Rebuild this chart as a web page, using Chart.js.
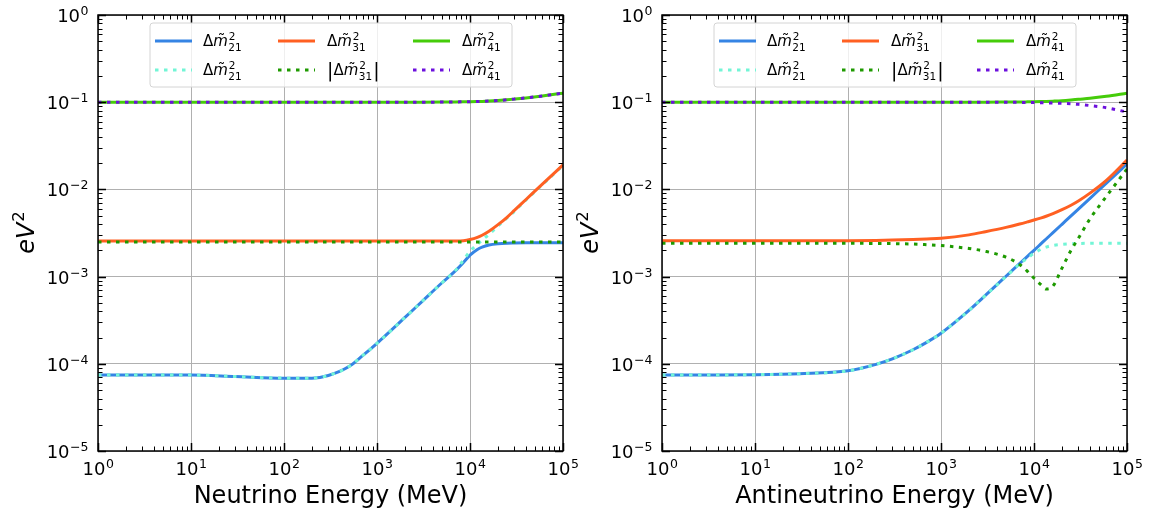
<!DOCTYPE html>
<html>
<head>
<meta charset="utf-8">
<script src="https://cdn.jsdelivr.net/npm/chart.js@4"></script>
<style>
  body { margin: 0; background: #fff; }
  canvas { position: absolute; top: 0; }
</style>
</head>
<body>
<canvas id="nuChart" width="600" height="516" style="left:0"></canvas>
<canvas id="antiChart" width="575" height="516" style="left:576px"></canvas>
<script>
const energy = [1, 3, 10, 30, 100, 200, 300, 500, 700, 1000, 2000, 3000, 5000, 7000, 8500,
  10000, 12000, 13500, 16000, 20000, 25000, 30000, 40000, 60000, 100000];

// neutrino panel (eV^2)
const nuDm21 = [7.45e-5, 7.45e-5, 7.43e-5, 7.15e-5, 6.85e-5, 6.85e-5, 7.35e-5, 9.3e-5, 1.24e-4, 1.72e-4,
  3.4e-4, 5.1e-4, 8.5e-4, 1.17e-3, 1.45e-3, 1.76e-3, 2.05e-3, 2.18e-3, 2.3e-3, 2.38e-3,
  2.42e-3, 2.43e-3, 2.44e-3, 2.45e-3, 2.45e-3];
const nuDm21b = [7.45e-5, 7.45e-5, 7.43e-5, 7.15e-5, 6.85e-5, 6.85e-5, 7.35e-5, 9.3e-5, 1.24e-4, 1.72e-4,
  3.4e-4, 5.1e-4, 8.5e-4, 1.18e-3, 1.55e-3, 1.95e-3, 2.35e-3, 2.62e-3, 3.05e-3, 3.8e-3,
  4.7e-3, 5.6e-3, 7.55e-3, 1.13e-2, 1.88e-2];
const nuDm31 = [2.56e-3, 2.56e-3, 2.56e-3, 2.56e-3, 2.56e-3, 2.56e-3, 2.56e-3, 2.56e-3, 2.56e-3, 2.56e-3,
  2.56e-3, 2.56e-3, 2.56e-3, 2.56e-3, 2.58e-3, 2.66e-3, 2.82e-3, 2.98e-3, 3.31e-3, 3.94e-3,
  4.79e-3, 5.74e-3, 7.66e-3, 1.15e-2, 1.91e-2];
const nuAbsDm31 = [2.5e-3, 2.5e-3, 2.5e-3, 2.5e-3, 2.5e-3, 2.5e-3, 2.5e-3, 2.5e-3, 2.5e-3, 2.5e-3,
  2.5e-3, 2.5e-3, 2.5e-3, 2.5e-3, 2.5e-3, 2.5e-3, 2.5e-3, 2.5e-3, 2.5e-3, 2.5e-3,
  2.5e-3, 2.5e-3, 2.5e-3, 2.5e-3, 2.5e-3];
const nuDm41 = [0.1, 0.1, 0.1, 0.1, 0.1, 0.1, 0.1, 0.1, 0.1, 0.1,
  0.1, 0.1, 0.1003, 0.1007, 0.101, 0.1013, 0.1018, 0.1022, 0.103, 0.1045,
  0.1065, 0.1085, 0.112, 0.118, 0.127];
const nuDm41b = [0.1, 0.1, 0.1, 0.1, 0.1, 0.1, 0.1, 0.1, 0.1, 0.1,
  0.1, 0.1, 0.1003, 0.1007, 0.101, 0.1013, 0.1018, 0.1022, 0.103, 0.1045,
  0.1065, 0.1085, 0.112, 0.118, 0.127];

// antineutrino panel (eV^2)
const antiDm21 = [7.44e-5, 7.45e-5, 7.5e-5, 7.7e-5, 8.3e-5, 9.86e-5, 1.14e-4, 1.45e-4, 1.76e-4, 2.24e-4,
  4.1e-4, 6.08e-4, 1.01e-3, 1.41e-3, 1.71e-3, 2.0e-3, 2.4e-3, 2.7e-3, 3.19e-3, 3.98e-3,
  4.97e-3, 5.94e-3, 7.9e-3, 1.18e-2, 1.96e-2];
const antiDm21b = [7.44e-5, 7.45e-5, 7.5e-5, 7.7e-5, 8.3e-5, 9.86e-5, 1.14e-4, 1.45e-4, 1.76e-4, 2.24e-4,
  4.1e-4, 6.08e-4, 1.0e-3, 1.4e-3, 1.63e-3, 1.85e-3, 2.07e-3, 2.18e-3, 2.28e-3, 2.34e-3,
  2.38e-3, 2.4e-3, 2.41e-3, 2.41e-3, 2.41e-3];
const antiDm31 = [2.57e-3, 2.57e-3, 2.57e-3, 2.57e-3, 2.58e-3, 2.6e-3, 2.62e-3, 2.66e-3, 2.7e-3, 2.75e-3,
  3.01e-3, 3.27e-3, 3.67e-3, 4.01e-3, 4.24e-3, 4.45e-3, 4.72e-3, 4.92e-3, 5.27e-3, 5.85e-3,
  6.58e-3, 7.36e-3, 9.06e-3, 1.27e-2, 2.17e-2];
const antiAbsDm31 = [2.42e-3, 2.42e-3, 2.42e-3, 2.42e-3, 2.41e-3, 2.4e-3, 2.39e-3, 2.36e-3, 2.32e-3, 2.27e-3,
  2.1e-3, 1.95e-3, 1.67e-3, 1.38e-3, 1.15e-3, 9.6e-4, 8.0e-4, 7.2e-4, 7.8e-4, 1.25e-3,
  2.0e-3, 2.75e-3, 4.6e-3, 8.3e-3, 1.72e-2];
const antiDm41 = [0.1, 0.1, 0.1, 0.1, 0.1, 0.1, 0.1, 0.1, 0.1, 0.1,
  0.1, 0.1, 0.1003, 0.1006, 0.1009, 0.1012, 0.1017, 0.1021, 0.1028, 0.104,
  0.106, 0.108, 0.111, 0.117, 0.127];
const antiDm41b = [0.1, 0.1, 0.1, 0.1, 0.1, 0.1, 0.1, 0.1, 0.1, 0.1,
  0.1, 0.1, 0.0998, 0.0995, 0.0993, 0.0991, 0.0988, 0.0984, 0.0978, 0.097,
  0.0958, 0.0945, 0.0915, 0.0865, 0.077];

// axis ticks (decades)
const xTicks = [1, 10, 100, 1000, 10000, 100000];
const yTicks = [1e-5, 1e-4, 1e-3, 1e-2, 1e-1, 1];

const FONT = '"DejaVu Sans", sans-serif';

// 10^n like matplotlib mathtext
function drawPow(ctx, v, x, y, align) {
  const e = Math.round(Math.log10(v));
  const sup = e < 0 ? '\u2212' + (-e) : String(e);
  ctx.font = '18px ' + FONT;
  const wb = ctx.measureText('10').width;
  ctx.font = '12.5px ' + FONT;
  const ws = ctx.measureText(sup).width;
  const x0 = align === 'center' ? x - (wb + ws) / 2 : x - wb - ws;
  ctx.textAlign = 'left';
  ctx.font = '18px ' + FONT;
  ctx.fillText('10', x0, y);
  ctx.font = '12.5px ' + FONT;
  ctx.fillText(sup, x0 + wb + 0.5, y - 7);
}

// legend label: Δm̃²_ij (optionally |...|)
function drawMass(ctx, x, y, idx, abs) {
  ctx.textAlign = 'left';
  ctx.fillStyle = '#000';
  let cx = x;
  if (abs) {
    ctx.font = '19px ' + FONT;
    ctx.fillText('|', cx, y + 2);
    cx += ctx.measureText('|').width;
  }
  ctx.font = '15px ' + FONT;
  ctx.fillText('\u0394', cx, y);
  cx += ctx.measureText('\u0394').width;
  ctx.font = 'italic 15px ' + FONT;
  const mw = ctx.measureText('m').width;
  ctx.fillText('m', cx, y);
  ctx.font = '15px ' + FONT;
  ctx.textAlign = 'center';
  ctx.fillText('\u02DC', cx + mw / 2 + 1, y - 1);
  ctx.textAlign = 'left';
  cx += mw;
  ctx.font = '10.5px ' + FONT;
  ctx.fillText('2', cx + 1, y - 6);
  ctx.fillText(idx, cx + 0.5, y + 5);
  cx += ctx.measureText(idx).width + 0.5;
  if (abs) {
    ctx.font = '19px ' + FONT;
    ctx.fillText('|', cx + 1, y + 2);
  }
}

const decor = {
  id: 'decor',
  afterDraw(chart, args, opts) {
    const { ctx, chartArea: a, scales: { x, y } } = chart;
    ctx.save();
    ctx.strokeStyle = '#000';
    ctx.setLineDash([]);

    // ticks, inward on all four sides
    const minor = [];
    for (let d = 0; d < xTicks.length - 1; d++)
      for (let k = 2; k <= 9; k++) minor.push(k * xTicks[d]);
    const minorY = [];
    for (let d = 0; d < yTicks.length - 1; d++)
      for (let k = 2; k <= 9; k++) minorY.push(k * yTicks[d]);
    const xt = (v, len, w) => {
      const p = Math.round(x.getPixelForValue(v)) + 0.5;
      ctx.lineWidth = w;
      ctx.beginPath();
      ctx.moveTo(p, a.bottom); ctx.lineTo(p, a.bottom - len);
      ctx.moveTo(p, a.top); ctx.lineTo(p, a.top + len);
      ctx.stroke();
    };
    const yt = (v, len, w) => {
      const p = Math.round(y.getPixelForValue(v)) + 0.5;
      ctx.lineWidth = w;
      ctx.beginPath();
      ctx.moveTo(a.left, p); ctx.lineTo(a.left + len, p);
      ctx.moveTo(a.right, p); ctx.lineTo(a.right - len, p);
      ctx.stroke();
    };
    minor.forEach(v => xt(v, 4.5, 1));
    minorY.forEach(v => yt(v, 4.5, 1));
    xTicks.forEach(v => xt(v, 8, 1.5));
    yTicks.forEach(v => yt(v, 8, 1.5));

    ctx.lineWidth = 1.5;
    ctx.strokeRect(a.left, a.top, a.right - a.left, a.bottom - a.top);

    // tick labels
    ctx.fillStyle = '#000';
    ctx.textBaseline = 'alphabetic';
    xTicks.forEach(v => drawPow(ctx, v, x.getPixelForValue(v), a.bottom + 24, 'center'));
    yTicks.forEach(v => drawPow(ctx, v, a.left - 10, y.getPixelForValue(v) + 7, 'right'));

    // axis titles
    ctx.font = '24px ' + FONT;
    ctx.textAlign = 'center';
    ctx.fillText(opts.xTitle, (a.left + a.right) / 2, a.bottom + 52);
    ctx.save();
    ctx.translate(a.left - 64, (a.top + a.bottom) / 2);
    ctx.rotate(-Math.PI / 2);
    ctx.font = 'italic 24px ' + FONT;
    ctx.textAlign = 'left';
    const we = ctx.measureText('eV').width;
    ctx.font = '16.5px ' + FONT;
    const w2 = ctx.measureText('2').width;
    ctx.font = 'italic 24px ' + FONT;
    ctx.fillText('eV', -(we + w2) / 2, 0);
    ctx.font = '16.5px ' + FONT;
    ctx.fillText('2', -(we + w2) / 2 + we + 1, -10);
    ctx.restore();

    // legend (3 columns x 2 rows, filled column-wise)
    const bx = a.left + 52, by = a.top + 8;
    ctx.beginPath();
    ctx.roundRect(bx, by, 362, 64, 3);
    ctx.fillStyle = 'rgba(255,255,255,0.8)';
    ctx.fill();
    ctx.strokeStyle = '#d4d4d4';
    ctx.lineWidth = 1;
    ctx.stroke();
    const hx = [57, 180, 315], tx = [105, 229, 364], ry = [26, 55];
    chart.data.datasets.forEach((ds, i) => {
      const c = Math.floor(i / 2), r = i % 2;
      const ly = a.top + ry[r];
      ctx.strokeStyle = ds.borderColor;
      ctx.lineWidth = ds.borderWidth;
      ctx.setLineDash(ds.borderDash || []);
      ctx.beginPath();
      ctx.moveTo(a.left + hx[c], ly);
      ctx.lineTo(a.left + hx[c] + 37, ly);
      ctx.stroke();
      ctx.setLineDash([]);
      drawMass(ctx, a.left + tx[c], ly + 5, ds.sub, ds.abs);
    });
    ctx.restore();
  }
};

function series(label, sub, abs, values, color, dotted, i) {
  return {
    label: label,
    sub: sub,
    abs: abs,
    data: energy.map((e, k) => ({ x: e, y: values[k] })),
    borderColor: color,
    borderWidth: 3,
    borderDash: dotted ? [3.5, 5.5] : [],
    pointRadius: 0,
    fill: false,
    cubicInterpolationMode: 'monotone',
    order: -i
  };
}

function makeChart(id, title, s, padLeft, padRight) {
  const axis = (min, max, ticks, horiz) => ({
    type: 'logarithmic',
    min: min,
    max: max,
    afterBuildTicks: sc => { sc.ticks = ticks.map(v => ({ value: v })); },
    afterFit: sc => { if (horiz) sc.height = 0; else sc.width = 0; },
    ticks: { display: false },
    grid: { color: '#b0b0b0', lineWidth: 1, drawTicks: false },
    border: { display: false }
  });
  return new Chart(document.getElementById(id), {
    type: 'line',
    data: {
      datasets: [
        series('\u0394m\u0303\u00B2\u2082\u2081', '21', false, s[0], '#3584e4', false, 0),
        series('\u0394m\u0303\u00B2\u2082\u2081', '21', false, s[1], '#73f5d6', true, 1),
        series('\u0394m\u0303\u00B2\u2083\u2081', '31', false, s[2], '#ff6022', false, 2),
        series('|\u0394m\u0303\u00B2\u2083\u2081|', '31', true, s[3], '#1e9a00', true, 3),
        series('\u0394m\u0303\u00B2\u2084\u2081', '41', false, s[4], '#45cc0a', false, 4),
        series('\u0394m\u0303\u00B2\u2084\u2081', '41', false, s[5], '#6c10dd', true, 5)
      ]
    },
    options: {
      responsive: false,
      animation: false,
      devicePixelRatio: 1,
      layout: { padding: { left: padLeft, right: padRight, top: 15, bottom: 65 } },
      scales: {
        x: axis(1, 1e5, xTicks, true),
        y: axis(1e-5, 1, yTicks, false)
      },
      plugins: {
        legend: { display: false },
        tooltip: { enabled: false },
        decor: { xTitle: title }
      }
    },
    plugins: [decor]
  });
}

makeChart('nuChart', 'Neutrino Energy (MeV)',
  [nuDm21, nuDm21b, nuDm31, nuAbsDm31, nuDm41, nuDm41b], 98, 37);
makeChart('antiChart', 'Antineutrino Energy (MeV)',
  [antiDm21, antiDm21b, antiDm31, antiAbsDm31, antiDm41, antiDm41b], 86, 24);
</script>
</body>
</html>
